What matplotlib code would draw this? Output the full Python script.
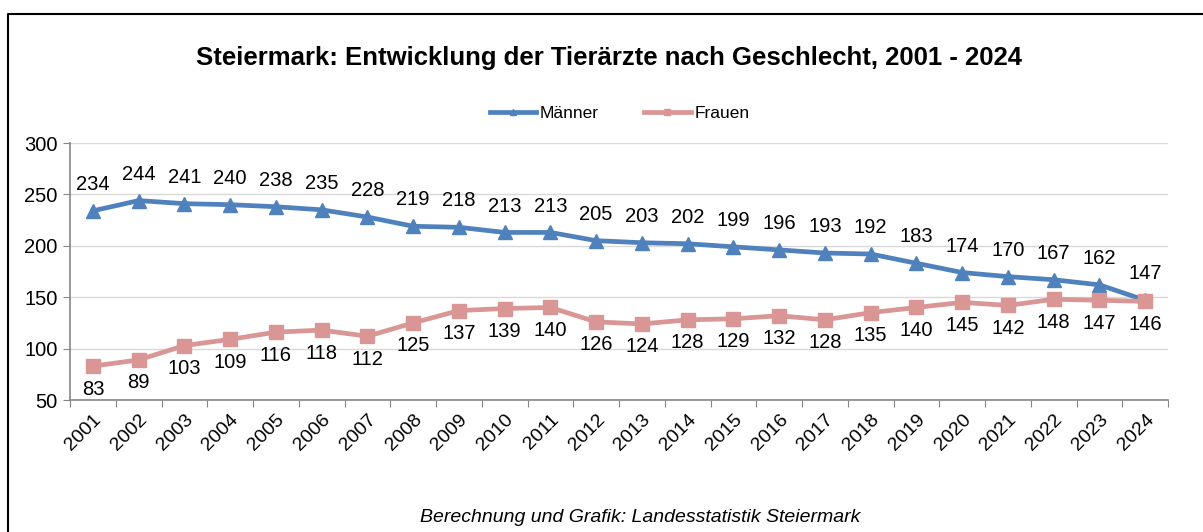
import matplotlib.pyplot as plt
import numpy as np

plt.rcParams['font.family'] = ['Liberation Sans', 'DejaVu Sans']

jahre = [str(j) for j in range(2001, 2025)]
maenner = [234, 244, 241, 240, 238, 235, 228, 219, 218, 213, 213, 205,
           203, 202, 199, 196, 193, 192, 183, 174, 170, 167, 162, 147]
frauen = [83, 89, 103, 109, 116, 118, 112, 125, 137, 139, 140, 126,
          124, 128, 129, 132, 128, 135, 140, 145, 142, 148, 147, 146]

blau = '#4F81BD'
rosa = '#D99694'

fig = plt.figure(figsize=(12.03, 5.32), dpi=100)
ax = fig.add_axes([0.0582, 0.2481, 0.9128, 0.4831])

x = np.arange(len(jahre))
ax.plot(x, maenner, color=blau, lw=3.4, marker='^', ms=10, label='Männer', zorder=3)
ax.plot(x, frauen, color=rosa, lw=3.4, marker='s', ms=10, label='Frauen', zorder=3)

for xi, v in zip(x, maenner):
    ax.annotate(str(v), (xi, v), xytext=(0, 19), textcoords='offset points',
                ha='center', va='center', fontsize=14.5)
for xi, v in zip(x, frauen):
    ax.annotate(str(v), (xi, v), xytext=(0, -16.5), textcoords='offset points',
                ha='center', va='center', fontsize=14.5)

ax.set_xlim(-0.5, len(jahre) - 0.5)
ax.set_ylim(50, 300)
ax.set_yticks([50, 100, 150, 200, 250, 300])
ax.set_xticks(np.arange(-0.5, len(jahre)), minor=False)
ax.set_xticklabels([])
ax.set_xticks(x, minor=True)
ax.set_xticklabels(jahre, minor=True, rotation=45, ha='right', rotation_mode='anchor', fontsize=14)
ax.tick_params(axis='x', which='minor', length=0, pad=8)
ax.tick_params(axis='x', which='major', length=5, color='#868686', direction='out')
ax.tick_params(axis='y', length=5, color='#868686', labelsize=14.5, pad=4)

ax.grid(axis='y', color='#D9D9D9', lw=1)
ax.set_axisbelow(True)
for s in ['top', 'right']:
    ax.spines[s].set_visible(False)
for s in ['left', 'bottom']:
    ax.spines[s].set_color('#868686')
    ax.spines[s].set_linewidth(1.2)

fig.text(0.506, 0.891, 'Steiermark: Entwicklung der Tierärzte nach Geschlecht, 2001 - 2024',
         ha='center', va='center', fontsize=18.5, fontweight='bold')
fig.legend(loc='center', bbox_to_anchor=(0.515, 0.787), ncol=2, frameon=False,
           fontsize=12.5, handlelength=2.7, columnspacing=2.6, handletextpad=0.2,
           markerscale=0.5)
fig.text(0.532, 0.028, 'Berechnung und Grafik: Landesstatistik Steiermark',
         ha='center', va='center', fontsize=14, style='italic')

# Rahmen um die Grafik
fig.add_artist(plt.Line2D([0.0067, 0.0067, 1.0], [0.0, 0.974, 0.974],
                          transform=fig.transFigure, color='black', lw=1.5))

fig.savefig('out.png', dpi=100)
